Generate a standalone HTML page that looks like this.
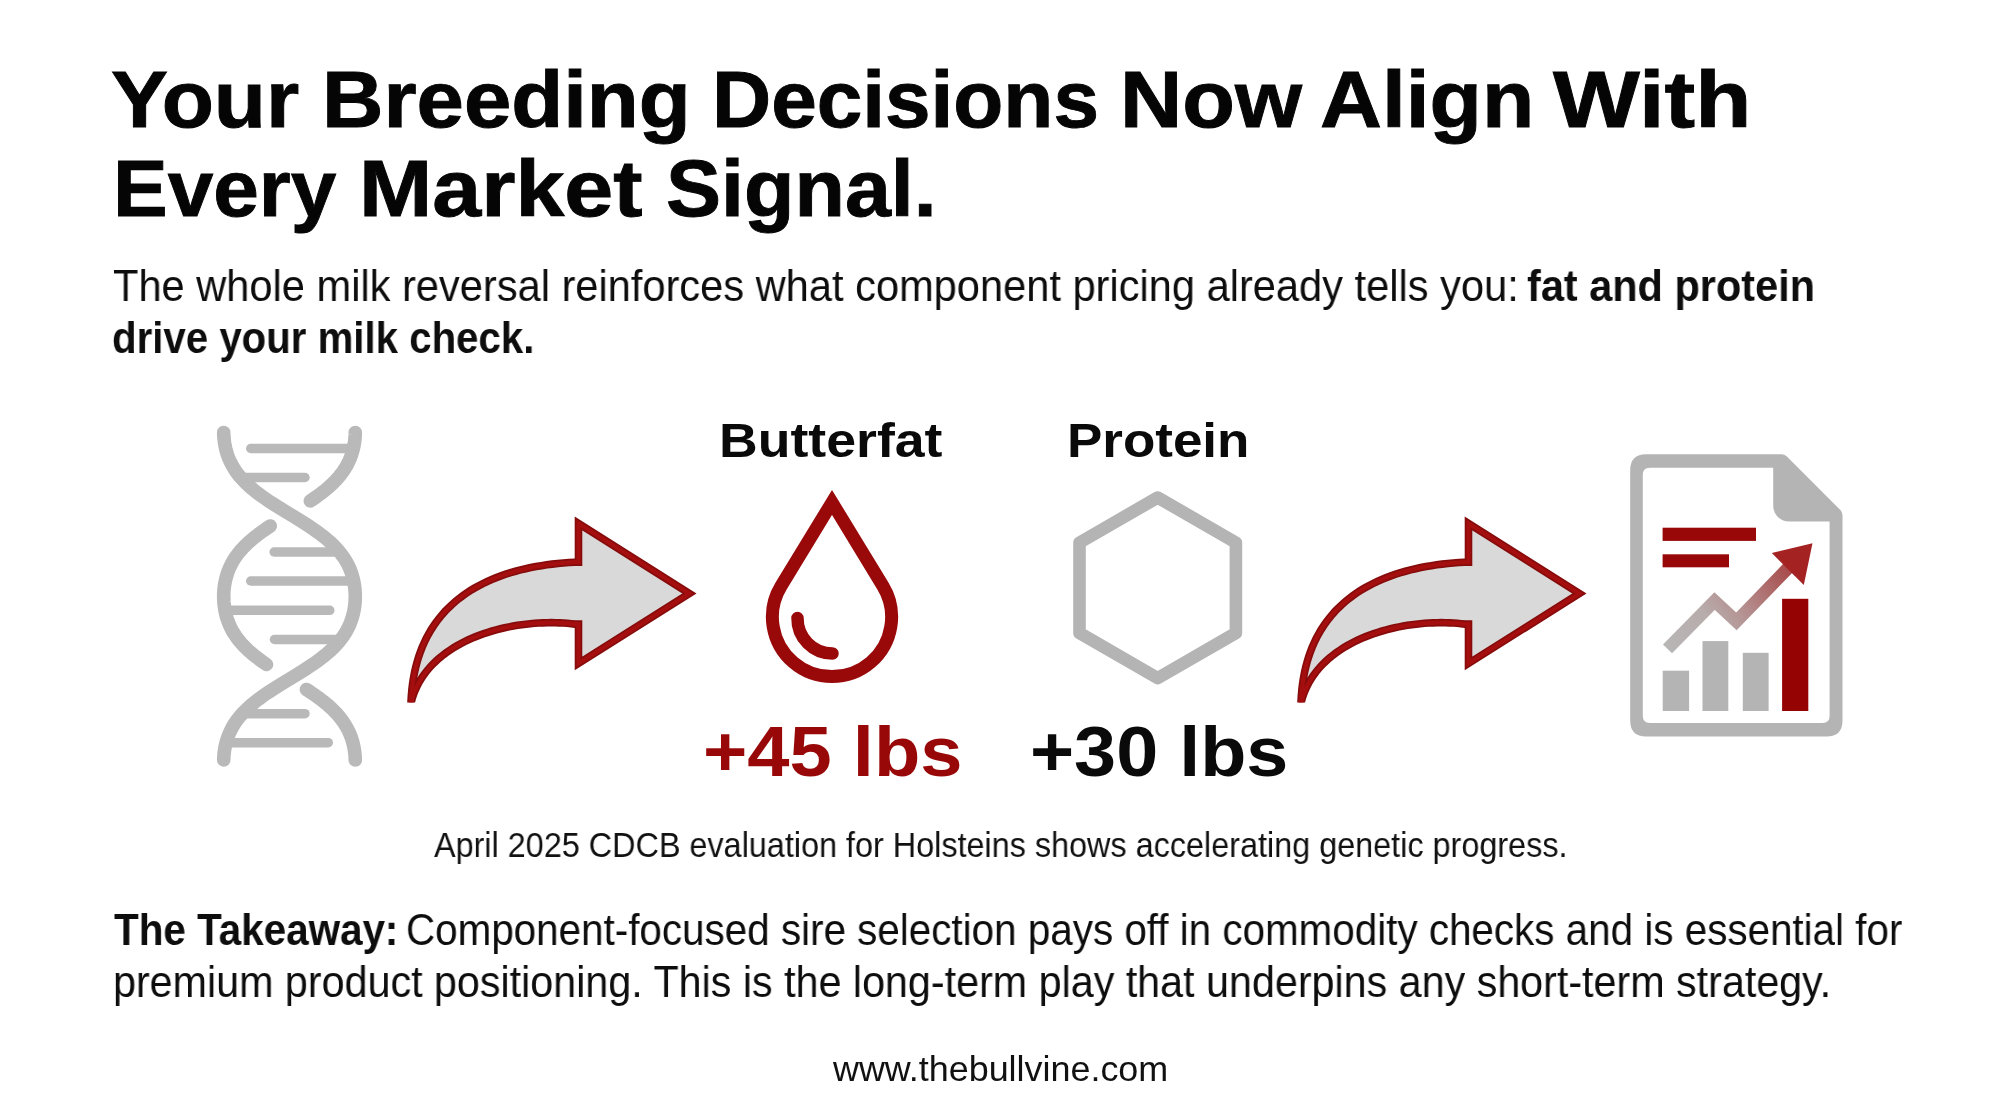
<!DOCTYPE html>
<html>
<head>
<meta charset="utf-8">
<style>
html,body{margin:0;padding:0;background:#fff;}
body{width:2000px;height:1116px;position:relative;overflow:hidden;font-family:"Liberation Sans",sans-serif;color:#0a0a0a;}
.t{position:absolute;white-space:nowrap;transform-origin:0 0;line-height:1;will-change:transform;}
.b{font-weight:bold;}
svg{position:absolute;left:0;top:0;}
</style>
</head>
<body>
<svg width="2000" height="1116" viewBox="0 0 2000 1116"><g fill="none" stroke="#b9b9b9" stroke-linecap="round"><path d="M223.71,432.50 L223.79,435.25 L223.98,438.00 L224.27,440.76 L224.66,443.51 L225.17,446.26 L225.78,449.01 L226.52,451.76 L227.38,454.52 L228.38,457.27 L229.52,460.02 L230.81,462.77 L232.26,465.53 L233.87,468.28 L235.67,471.03 L237.66,473.78 L239.86,476.53 L242.25,479.29 L244.87,482.04 L247.70,484.79 L250.76,487.54 L254.04,490.29 L257.53,493.05 L261.23,495.80 L265.13,498.55 L269.20,501.30 L273.43,504.05 L277.78,506.81 L282.22,509.56 L286.72,512.31 L291.25,515.06 L295.76,517.82 L300.22,520.57 L304.59,523.32 L308.85,526.07 L312.96,528.82 L316.90,531.58 L320.65,534.33 L324.19,537.08 L327.52,539.83 L330.62,542.58 L333.51,545.34 L336.17,548.09 L338.62,550.84 L340.85,553.59 L342.89,556.34 L344.73,559.10 L346.39,561.85 L347.88,564.60 L349.20,567.35 L350.37,570.11 L351.40,572.86 L352.29,575.61 L353.06,578.36 L353.70,581.11 L354.23,583.87 L354.65,586.62 L354.96,589.37 L355.17,592.12 L355.28,594.87 L355.29,597.63 L355.20,600.38 L355.01,603.13 L354.72,605.88 L354.32,608.63 L353.81,611.39 L353.19,614.14 L352.44,616.89 L351.57,619.64 L350.57,622.39 L349.43,625.15 L348.13,627.90 L346.67,630.65 L345.05,633.40 L343.24,636.16 L341.24,638.91 L339.04,641.66 L336.63,644.41 L334.01,647.16 L331.16,649.92 L328.10,652.67 L324.81,655.42 L321.30,658.17 L317.59,660.92 L313.69,663.68 L309.61,666.43 L305.38,669.18 L301.02,671.93 L296.57,674.68 L292.07,677.44 L287.54,680.19 L283.03,682.94 L278.58,685.69 L274.21,688.45 L269.96,691.20 L265.86,693.95 L261.93,696.70 L258.19,699.45 L254.65,702.21 L251.34,704.96 L248.24,707.71 L245.37,710.46 L242.71,713.21 L240.28,715.97 L238.05,718.72 L236.02,721.47 L234.19,724.22 L232.54,726.97 L231.06,729.73 L229.74,732.48 L228.58,735.23 L227.55,737.98 L226.67,740.74 L225.91,743.49 L225.27,746.24 L224.75,748.99 L224.33,751.74 L224.02,754.50 L223.82,757.25 L223.71,760.00" stroke-width="13.6"/><path d="M355.29,432.50 L355.25,434.25 L355.17,436.01 L355.04,437.76 L354.87,439.52 L354.67,441.27 L354.41,443.02 L354.12,444.78 L353.78,446.53 L353.39,448.28 L352.96,450.04 L352.47,451.79 L351.94,453.55 L351.35,455.30 L350.70,457.05 L350.00,458.81 L349.24,460.56 L348.42,462.32 L347.53,464.07 L346.58,465.82 L345.55,467.58 L344.46,469.33 L343.29,471.08 L342.04,472.84 L340.71,474.59 L339.30,476.35 L337.81,478.10 L336.22,479.85 L334.56,481.61 L332.80,483.36 L330.95,485.12 L329.01,486.87 L326.98,488.62 L324.86,490.38 L322.66,492.13 L320.36,493.88 L317.99,495.64 L315.53,497.39 L313.00,499.15 L310.40,500.90" stroke-width="13.6"/><path d="M270.26,526.00 L267.24,528.01 L264.31,530.01 L261.48,532.02 L258.75,534.03 L256.13,536.04 L253.62,538.04 L251.23,540.05 L248.95,542.06 L246.80,544.07 L244.76,546.07 L242.84,548.08 L241.03,550.09 L239.34,552.09 L237.75,554.10 L236.28,556.11 L234.90,558.12 L233.63,560.12 L232.45,562.13 L231.36,564.14 L230.36,566.14 L229.44,568.15 L228.60,570.16 L227.84,572.17 L227.15,574.17 L226.54,576.18 L225.99,578.19 L225.50,580.20 L225.07,582.20 L224.71,584.21 L224.40,586.22 L224.15,588.22 L223.96,590.23 L223.82,592.24 L223.73,594.25 L223.70,596.25 L223.72,598.26 L223.79,600.27 L223.92,602.28 L224.10,604.28 L224.34,606.29 L224.63,608.30 L224.98,610.30 L225.39,612.31 L225.86,614.32 L226.39,616.33 L227.00,618.33 L227.67,620.34 L228.41,622.35 L229.23,624.36 L230.13,626.36 L231.11,628.37 L232.17,630.38 L233.33,632.38 L234.58,634.39 L235.93,636.40 L237.38,638.41 L238.94,640.41 L240.60,642.42 L242.38,644.43 L244.28,646.43 L246.29,648.44 L248.41,650.45 L250.66,652.46 L253.02,654.46 L255.50,656.47 L258.10,658.48 L260.80,660.49 L263.61,662.49 L266.52,664.50" stroke-width="13.6"/><path d="M306.44,689.50 L309.21,691.31 L311.92,693.12 L314.55,694.92 L317.11,696.73 L319.59,698.54 L321.98,700.35 L324.28,702.15 L326.49,703.96 L328.60,705.77 L330.62,707.58 L332.54,709.38 L334.36,711.19 L336.09,713.00 L337.72,714.81 L339.27,716.62 L340.72,718.42 L342.09,720.23 L343.37,722.04 L344.57,723.85 L345.69,725.65 L346.74,727.46 L347.71,729.27 L348.61,731.08 L349.44,732.88 L350.21,734.69 L350.91,736.50 L351.56,738.31 L352.14,740.12 L352.68,741.92 L353.15,743.73 L353.58,745.54 L353.95,747.35 L354.28,749.15 L354.56,750.96 L354.79,752.77 L354.98,754.58 L355.13,756.38 L355.23,758.19 L355.29,760.00" stroke-width="13.6"/><path d="M250.75,448.50 L353.34,448.50" stroke-width="9.5"/><path d="M240.67,477.50 L304.95,477.50" stroke-width="9.5"/><path d="M274.15,552.00 L339.59,552.00" stroke-width="9.5"/><path d="M250.75,581.00 L353.68,581.00" stroke-width="9.5"/><path d="M224.98,610.30 L329.75,610.30" stroke-width="9.5"/><path d="M274.45,639.50 L340.78,639.50" stroke-width="9.5"/><path d="M242.27,713.70 L304.95,713.70" stroke-width="9.5"/><path d="M226.11,742.70 L328.25,742.70" stroke-width="9.5"/></g><defs><clipPath id="aclip"><rect x="380" y="500" width="340" height="202.6"/></clipPath></defs><g transform="translate(0.0,0)" clip-path="url(#aclip)"><path d="M411.21,704.00 L411.00,701.86 L411.35,695.66 L411.87,689.63 L412.58,683.78 L413.45,678.08 L414.50,672.56 L415.71,667.19 L417.09,661.99 L418.62,656.94 L420.31,652.05 L422.16,647.31 L424.15,642.72 L426.29,638.29 L428.58,633.99 L431.01,629.85 L433.58,625.84 L436.29,621.98 L439.13,618.25 L442.10,614.66 L445.20,611.21 L448.43,607.88 L451.79,604.68 L455.27,601.62 L458.87,598.68 L462.59,595.86 L466.42,593.16 L470.37,590.59 L474.42,588.14 L478.59,585.81 L482.86,583.59 L487.24,581.49 L491.71,579.50 L496.29,577.63 L500.96,575.87 L505.72,574.22 L510.57,572.68 L515.51,571.24 L520.53,569.92 L525.63,568.69 L530.81,567.58 L536.06,566.56 L541.39,565.64 L546.79,564.83 L552.25,564.11 L557.77,563.49 L563.36,562.97 L569.00,562.53 L574.69,562.19 L578.5,562.19 L578.5,523.5 L689.4,593.45 L578.5,663.4 L578.5,624.13 L574.98,624.13 L571.18,623.69 L567.31,623.32 L563.37,623.04 L559.38,622.83 L555.33,622.71 L551.24,622.67 L547.11,622.71 L542.94,622.83 L538.74,623.03 L534.51,623.32 L530.27,623.70 L526.00,624.16 L521.74,624.70 L517.46,625.34 L513.19,626.06 L508.93,626.87 L504.68,627.77 L500.45,628.76 L496.24,629.84 L492.06,631.02 L487.92,632.28 L483.82,633.65 L479.76,635.10 L475.76,636.65 L471.81,638.30 L467.93,640.05 L464.11,641.90 L460.37,643.85 L456.71,645.90 L453.13,648.05 L449.65,650.30 L446.26,652.66 L442.98,655.13 L439.80,657.70 L436.75,660.39 L433.81,663.18 L431.00,666.08 L428.33,669.10 L425.79,672.22 L423.41,675.47 L421.18,678.82 L419.11,682.29 L417.21,685.87 L415.48,689.57 L413.94,693.38 L412.58,697.31 L411.42,701.35 Z" fill="#d9d9d9" stroke="#860c0c" stroke-width="7.6" stroke-linejoin="miter" stroke-miterlimit="20"/><path d="M411.21,704.00 L411.00,701.86 L411.35,695.66 L411.87,689.63 L412.58,683.78 L413.45,678.08 L414.50,672.56 L415.71,667.19 L417.09,661.99 L418.62,656.94 L420.31,652.05 L422.16,647.31 L424.15,642.72 L426.29,638.29 L428.58,633.99 L431.01,629.85 L433.58,625.84 L436.29,621.98 L439.13,618.25 L442.10,614.66 L445.20,611.21 L448.43,607.88 L451.79,604.68 L455.27,601.62 L458.87,598.68 L462.59,595.86 L466.42,593.16 L470.37,590.59 L474.42,588.14 L478.59,585.81 L482.86,583.59 L487.24,581.49 L491.71,579.50 L496.29,577.63 L500.96,575.87 L505.72,574.22 L510.57,572.68 L515.51,571.24 L520.53,569.92 L525.63,568.69 L530.81,567.58 L536.06,566.56 L541.39,565.64 L546.79,564.83 L552.25,564.11 L557.77,563.49 L563.36,562.97 L569.00,562.53 L574.69,562.19 L578.5,562.19 L578.5,523.5 L689.4,593.45 L578.5,663.4 L578.5,624.13 L574.98,624.13 L571.18,623.69 L567.31,623.32 L563.37,623.04 L559.38,622.83 L555.33,622.71 L551.24,622.67 L547.11,622.71 L542.94,622.83 L538.74,623.03 L534.51,623.32 L530.27,623.70 L526.00,624.16 L521.74,624.70 L517.46,625.34 L513.19,626.06 L508.93,626.87 L504.68,627.77 L500.45,628.76 L496.24,629.84 L492.06,631.02 L487.92,632.28 L483.82,633.65 L479.76,635.10 L475.76,636.65 L471.81,638.30 L467.93,640.05 L464.11,641.90 L460.37,643.85 L456.71,645.90 L453.13,648.05 L449.65,650.30 L446.26,652.66 L442.98,655.13 L439.80,657.70 L436.75,660.39 L433.81,663.18 L431.00,666.08 L428.33,669.10 L425.79,672.22 L423.41,675.47 L421.18,678.82 L419.11,682.29 L417.21,685.87 L415.48,689.57 L413.94,693.38 L412.58,697.31 L411.42,701.35 Z" fill="none" stroke="#a50e0e" stroke-width="4.2" stroke-linejoin="miter" stroke-miterlimit="20"/></g><g transform="translate(890.0,0)" clip-path="url(#aclip)"><path d="M411.21,704.00 L411.00,701.86 L411.35,695.66 L411.87,689.63 L412.58,683.78 L413.45,678.08 L414.50,672.56 L415.71,667.19 L417.09,661.99 L418.62,656.94 L420.31,652.05 L422.16,647.31 L424.15,642.72 L426.29,638.29 L428.58,633.99 L431.01,629.85 L433.58,625.84 L436.29,621.98 L439.13,618.25 L442.10,614.66 L445.20,611.21 L448.43,607.88 L451.79,604.68 L455.27,601.62 L458.87,598.68 L462.59,595.86 L466.42,593.16 L470.37,590.59 L474.42,588.14 L478.59,585.81 L482.86,583.59 L487.24,581.49 L491.71,579.50 L496.29,577.63 L500.96,575.87 L505.72,574.22 L510.57,572.68 L515.51,571.24 L520.53,569.92 L525.63,568.69 L530.81,567.58 L536.06,566.56 L541.39,565.64 L546.79,564.83 L552.25,564.11 L557.77,563.49 L563.36,562.97 L569.00,562.53 L574.69,562.19 L578.5,562.19 L578.5,523.5 L689.4,593.45 L578.5,663.4 L578.5,624.13 L574.98,624.13 L571.18,623.69 L567.31,623.32 L563.37,623.04 L559.38,622.83 L555.33,622.71 L551.24,622.67 L547.11,622.71 L542.94,622.83 L538.74,623.03 L534.51,623.32 L530.27,623.70 L526.00,624.16 L521.74,624.70 L517.46,625.34 L513.19,626.06 L508.93,626.87 L504.68,627.77 L500.45,628.76 L496.24,629.84 L492.06,631.02 L487.92,632.28 L483.82,633.65 L479.76,635.10 L475.76,636.65 L471.81,638.30 L467.93,640.05 L464.11,641.90 L460.37,643.85 L456.71,645.90 L453.13,648.05 L449.65,650.30 L446.26,652.66 L442.98,655.13 L439.80,657.70 L436.75,660.39 L433.81,663.18 L431.00,666.08 L428.33,669.10 L425.79,672.22 L423.41,675.47 L421.18,678.82 L419.11,682.29 L417.21,685.87 L415.48,689.57 L413.94,693.38 L412.58,697.31 L411.42,701.35 Z" fill="#d9d9d9" stroke="#860c0c" stroke-width="7.6" stroke-linejoin="miter" stroke-miterlimit="20"/><path d="M411.21,704.00 L411.00,701.86 L411.35,695.66 L411.87,689.63 L412.58,683.78 L413.45,678.08 L414.50,672.56 L415.71,667.19 L417.09,661.99 L418.62,656.94 L420.31,652.05 L422.16,647.31 L424.15,642.72 L426.29,638.29 L428.58,633.99 L431.01,629.85 L433.58,625.84 L436.29,621.98 L439.13,618.25 L442.10,614.66 L445.20,611.21 L448.43,607.88 L451.79,604.68 L455.27,601.62 L458.87,598.68 L462.59,595.86 L466.42,593.16 L470.37,590.59 L474.42,588.14 L478.59,585.81 L482.86,583.59 L487.24,581.49 L491.71,579.50 L496.29,577.63 L500.96,575.87 L505.72,574.22 L510.57,572.68 L515.51,571.24 L520.53,569.92 L525.63,568.69 L530.81,567.58 L536.06,566.56 L541.39,565.64 L546.79,564.83 L552.25,564.11 L557.77,563.49 L563.36,562.97 L569.00,562.53 L574.69,562.19 L578.5,562.19 L578.5,523.5 L689.4,593.45 L578.5,663.4 L578.5,624.13 L574.98,624.13 L571.18,623.69 L567.31,623.32 L563.37,623.04 L559.38,622.83 L555.33,622.71 L551.24,622.67 L547.11,622.71 L542.94,622.83 L538.74,623.03 L534.51,623.32 L530.27,623.70 L526.00,624.16 L521.74,624.70 L517.46,625.34 L513.19,626.06 L508.93,626.87 L504.68,627.77 L500.45,628.76 L496.24,629.84 L492.06,631.02 L487.92,632.28 L483.82,633.65 L479.76,635.10 L475.76,636.65 L471.81,638.30 L467.93,640.05 L464.11,641.90 L460.37,643.85 L456.71,645.90 L453.13,648.05 L449.65,650.30 L446.26,652.66 L442.98,655.13 L439.80,657.70 L436.75,660.39 L433.81,663.18 L431.00,666.08 L428.33,669.10 L425.79,672.22 L423.41,675.47 L421.18,678.82 L419.11,682.29 L417.21,685.87 L415.48,689.57 L413.94,693.38 L412.58,697.31 L411.42,701.35 Z" fill="none" stroke="#a50e0e" stroke-width="4.2" stroke-linejoin="miter" stroke-miterlimit="20"/></g><g fill="none" stroke="#990909" stroke-width="13"><path d="M832.00,502.40 L882.91,586.00 A59.60,59.60 0 1 1 781.09,586.00 Z" stroke-linejoin="miter" stroke-miterlimit="10"/><path d="M797.5,618 A35,35 0 0 0 832.5,653.5" stroke-linecap="round" stroke-width="12.5"/></g><path d="M1157.70,497.50 L1235.90,542.65 L1235.90,632.95 L1157.70,678.10 L1079.50,632.95 L1079.50,542.65 Z" fill="none" stroke="#b4b4b4" stroke-width="12.6" stroke-linejoin="round"/><defs><linearGradient id="zz" gradientUnits="userSpaceOnUse" x1="1665" y1="650" x2="1810" y2="545"><stop offset="0" stop-color="#b8b6b6"/><stop offset="0.3" stop-color="#b8acac"/><stop offset="0.5" stop-color="#b48e8e"/><stop offset="0.75" stop-color="#ab5a5a"/><stop offset="1" stop-color="#a32828"/></linearGradient></defs><path d="M1646.2,454.2 L1781.5,454.2 Q1784.5,454.2 1786.6,456.3 L1840.4,510.1 Q1842.5,512.2 1842.5,515.2 L1842.5,720.5 Q1842.5,736.5 1826.5,736.5 L1646.2,736.5 Q1630.2,736.5 1630.2,720.5 L1630.2,470.2 Q1630.2,454.2 1646.2,454.2 Z" fill="#b4b4b4"/><path d="M1649.8,467.8 L1773.2,467.8 L1773.2,505.6 A16,16 0 0 0 1789.2,521.6 L1829.6,521.6 L1829.6,716.1 Q1829.6,723.1 1822.6,723.1 L1649.8,723.1 Q1642.8,723.1 1642.8,716.1 L1642.8,474.8 Q1642.8,467.8 1649.8,467.8 Z" fill="#fff"/><rect x="1662.6" y="527.7" width="93.4" height="13.2" fill="#990808"/><rect x="1662.6" y="554.3" width="66.4" height="13" fill="#990808"/><rect x="1662.7" y="670.7" width="26.4" height="40.3" fill="#b4b4b4"/><rect x="1702.5" y="641.1" width="25.8" height="69.9" fill="#b4b4b4"/><rect x="1742.8" y="652.8" width="25.8" height="58.2" fill="#b4b4b4"/><rect x="1782.1" y="598.8" width="26.2" height="112.2" fill="#950303"/><path d="M1667.5,648.9 L1714.6,601 L1736.4,621.3 L1790,566" fill="none" stroke="url(#zz)" stroke-width="12.7" stroke-linejoin="miter"/><path d="M1812.5,543.2 L1771.8,553.1 L1803.8,585.1 Z" fill="#a52222"/></svg>
<div class="t b" id="t1w0" style="left:110.87px;top:59.96px;font-size:79.3px;color:#050505;transform:scaleX(1.0775);-webkit-text-stroke:0.9px #050505;">Your</div>
<div class="t b" id="t1w1" style="left:321.60px;top:59.96px;font-size:79.3px;color:#050505;transform:scaleX(1.0730);-webkit-text-stroke:0.9px #050505;">Breeding</div>
<div class="t b" id="t1w2" style="left:711.83px;top:59.96px;font-size:79.3px;color:#050505;transform:scaleX(1.0329);-webkit-text-stroke:0.9px #050505;">Decisions</div>
<div class="t b" id="t1w3" style="left:1120.04px;top:59.96px;font-size:79.3px;color:#050505;transform:scaleX(1.0869);-webkit-text-stroke:0.9px #050505;">Now</div>
<div class="t b" id="t1w4" style="left:1320.32px;top:59.96px;font-size:79.3px;color:#050505;transform:scaleX(1.0811);-webkit-text-stroke:0.9px #050505;">Align</div>
<div class="t b" id="t1w5" style="left:1553.46px;top:59.96px;font-size:79.3px;color:#050505;transform:scaleX(1.1602);-webkit-text-stroke:0.9px #050505;">With</div>
<div class="t b" id="t2w0" style="left:112.83px;top:149.16px;font-size:79.3px;color:#050505;transform:scaleX(1.0331);-webkit-text-stroke:0.9px #050505;">Every</div>
<div class="t b" id="t2w1" style="left:359.38px;top:149.16px;font-size:79.3px;color:#050505;transform:scaleX(1.1092);-webkit-text-stroke:0.9px #050505;">Market</div>
<div class="t b" id="t2w2" style="left:665.89px;top:149.16px;font-size:79.3px;color:#050505;transform:scaleX(1.0414);-webkit-text-stroke:0.9px #050505;">Signal.</div>
<div class="t" id="sub1a" style="left:112.53px;top:263.75px;font-size:44px;color:#0d0d0d;transform:scaleX(0.9454);">The whole milk reversal reinforces what component pricing already tells you:</div>
<div class="t b" id="sub1b" style="left:1527.06px;top:263.75px;font-size:44px;color:#0d0d0d;transform:scaleX(0.9424);">fat and protein</div>
<div class="t b" id="sub2" style="left:112.17px;top:316.05px;font-size:44px;color:#0d0d0d;transform:scaleX(0.9138);">drive your milk check.</div>
<div class="t b" id="butterfat" style="left:719.09px;top:417.16px;font-size:48px;color:#0a0a0a;transform:scaleX(1.1174);">Butterfat</div>
<div class="t b" id="protein" style="left:1067.07px;top:416.86px;font-size:48px;color:#0a0a0a;transform:scaleX(1.1032);">Protein</div>
<div class="t b" id="p45" style="left:703.42px;top:715.51px;font-size:71.2px;color:#980808;transform:scaleX(1.0664);">+45 lbs</div>
<div class="t b" id="p30" style="left:1029.73px;top:715.71px;font-size:71.2px;color:#0a0a0a;transform:scaleX(1.0614);">+30 lbs</div>
<div class="t" id="caption" style="left:433.54px;top:828.16px;font-size:35.6px;color:#111;transform:scaleX(0.9098);">April 2025 CDCB evaluation for Holsteins shows accelerating genetic progress.</div>
<div class="t b" id="take1a" style="left:113.54px;top:908.25px;font-size:44px;color:#0d0d0d;transform:scaleX(0.9180);">The Takeaway:</div>
<div class="t" id="take1b" style="left:405.69px;top:908.25px;font-size:44px;color:#0d0d0d;transform:scaleX(0.9178);">Component-focused sire selection pays off in commodity checks and is essential for</div>
<div class="t" id="take2" style="left:112.66px;top:959.75px;font-size:44px;color:#0d0d0d;transform:scaleX(0.9376);">premium product positioning. This is the long-term play that underpins any short-term strategy.</div>
<div class="t" id="footer" style="left:833.48px;top:1051.79px;font-size:34.5px;color:#111;transform:scaleX(1.0406);">www.thebullvine.com</div>
</body>
</html>
